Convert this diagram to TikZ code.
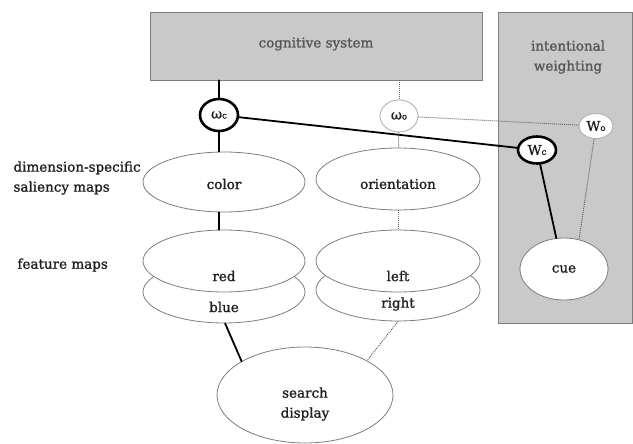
\documentclass[tikz,border=0pt]{standalone}
\usepackage{fontspec}
\setmainfont{DejaVu Serif}[BoldFont=DejaVu Serif, BoldFeatures={FakeBold=1.2}]
\usepackage{tikz}
\usetikzlibrary{shapes.geometric,positioning,calc}
\definecolor{boxgray}{RGB}{201,201,201}
\definecolor{edgegray}{RGB}{125,125,125}
\definecolor{txtgray}{RGB}{85,85,85}
\newcommand{\subc}[1]{{\fontsize{8.5}{9}\selectfont #1}}

\begin{document}
\begin{tikzpicture}[x=1pt,y=-1pt,
    every node/.style={font=\fontsize{13.5}{20}\selectfont\bfseries, text=black!88},
    panel/.style={draw=edgegray, fill=boxgray, line width=0.8pt, inner sep=0pt},
    mapnode/.style={ellipse, draw=edgegray, fill=white, line width=0.8pt, inner sep=0pt},
    wheavy/.style={ellipse, draw=black, fill=white, line width=2.6pt, inner sep=0pt},
    wlight/.style={ellipse, draw=black!30, fill=white, line width=0.9pt, inner sep=0pt},
    active/.style={line width=1.8pt, line cap=round},
    inactive/.style={densely dotted, line width=1pt, draw=black!60}]
        \useasboundingbox (0,0) rectangle (633,444);

        % boxes
        \node[panel, minimum width=332pt, minimum height=68pt] (cog) at (316,46) {};
        \node[text=txtgray] (cogtxt) at (316,44) {cognitive system};
        \node[panel, minimum width=134pt, minimum height=311pt] (intent) at (565,167.5) {};
        \node[align=center, text=txtgray] (intenttxt) at (568,57) {intentional\\weighting};

        % row labels
        \node[align=left, anchor=west] (dimlbl) at (10,178) {dimension-specific\\saliency maps};
        \node[anchor=west] (featlbl) at (14,265) {feature maps};

        % maps
        \node[mapnode, minimum width=162pt, minimum height=62pt] (blue) at (224,292) {};
        \node[mapnode, minimum width=162pt, minimum height=62pt] (red) at (224,261) {};
        \node[mapnode, minimum width=162pt, minimum height=60pt] (color) at (224,182) {};
        \node[mapnode, minimum width=164pt, minimum height=62pt] (right) at (398,290) {};
        \node[mapnode, minimum width=164pt, minimum height=62pt] (left) at (398,261) {};
        \node[mapnode, minimum width=164pt, minimum height=62pt] (orient) at (398,179) {};
        \node (colortxt) at (224,184) {color};
        \node (orienttxt) at (398,184) {orientation};
        \node (redtxt) at (224,276) {red};
        \node (bluetxt) at (224,307) {blue};
        \node (lefttxt) at (398,276) {left};
        \node (righttxt) at (398,304) {right};
        \node[mapnode, minimum width=176pt, minimum height=96pt] (search) at (305,395) {};
        \node[align=center] (searchtxt) at (305,404) {search\\display};
        \node[mapnode, minimum width=88pt, minimum height=62pt] (cue) at (564,269) {cue};

        % weights
        \node[wheavy, minimum width=38pt, minimum height=32pt] (wc) at (219,115) {ω\subc{c}};
        \node[wlight, minimum width=38pt, minimum height=32pt] (wo) at (399,116) {ω\subc{o}};
        \node[wheavy, minimum width=38pt, minimum height=27pt] (Wc) at (537,150) {W\subc{c}};
        \node[wlight, minimum width=34pt, minimum height=25pt] (Wo) at (596,126) {W\subc{o}};

        % colour route
        \draw[active] (cog.south -| wc) -- (wc);
        \draw[active] (wc) -- (wc |- color.north);
        \draw[active] (wc |- color.south) -- (wc |- red.north);
        \draw[active] (blue.-88) -- (search.152);
        \draw[active] (wc) -- (Wc);
        \draw[active] (Wc) -- (cue.104);

        % orientation route
        \draw[inactive] (cog.south -| wo) -- (wo);
        \draw[inactive] (wo) -- (orient);
        \draw[inactive] (orient) -- (left);
        \draw[inactive] (right.south) -- (search.29);
        \draw[inactive] (wo) -- (Wo);
        \draw[inactive] (Wo) -- (cue.63);
\end{tikzpicture}
\end{document}
